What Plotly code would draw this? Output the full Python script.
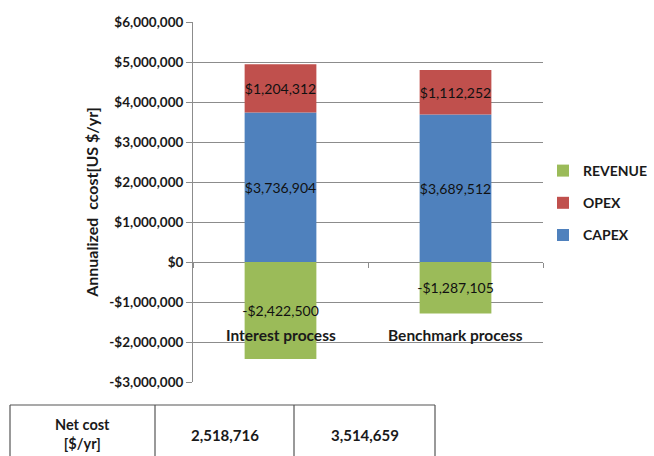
import plotly.graph_objects as go

categories = ["Interest process", "Benchmark process"]
capex = [3736904, 3689512]
opex = [1204312, 1112252]
revenue = [-2422500, -1287105]
net_cost_labels = ["2,518,716", "3,514,659"]
tick_vals = [-3000000, -2000000, -1000000, 0, 1000000, 2000000, 3000000, 4000000, 5000000, 6000000]

FONT = "Lato"
TXT = "#1a1a1a"

def money(v):
    return ("-$" if v < 0 else "$") + f"{abs(v):,}"

fig = go.Figure()
series = [("CAPEX", capex, "#4F81BD", 3), ("OPEX", opex, "#C0504D", 2), ("REVENUE", revenue, "#9BBB59", 1)]
for name, vals, col, rank in series:
    fig.add_trace(go.Bar(
        x=categories, y=vals, name="<b>%s</b>" % name, legendgroup=name, legendrank=rank,
        marker=dict(color=col, line=dict(width=0)),
        text=[money(v) for v in vals], textposition="inside", insidetextanchor="middle", textangle=0,
        textfont=dict(family=FONT, size=14, color="#111111"), constraintext="none",
        cliponaxis=False,
    ))

for c in categories:
    fig.add_annotation(x=c, y=-1830000, xref="x", yref="y", text="<b>%s</b>" % c, xanchor="center",
                       showarrow=False, font=dict(family=FONT, size=15.5, color=TXT))

# table (pixel positions converted to plot-area paper coordinates)
L, T, PW, PH = 193, 22, 350, 360
x0, x1, x2, x3 = 10, 155, 294, 435
W, H = 654, 456
def px(x):
    return (x - L) / PW
def py(y):
    return 1 - (y - T) / PH
line = dict(color="#555555", width=1.2)
fig.add_shape(type="line", xref="paper", yref="paper", x0=px(x0), x1=px(x3), y0=py(405), y1=py(405), line=line)
for xv in (x0, x1, x2, x3):
    fig.add_shape(type="line", xref="paper", yref="paper", x0=px(xv), x1=px(xv), y0=py(405), y1=py(460), line=line)
fig.add_annotation(xref="paper", yref="paper", x=px((x0 + x1) / 2), y=py(434), text="<b>Net cost<br>[$/yr]</b>",
                   xanchor="center", yanchor="middle",
                   showarrow=False, font=dict(family=FONT, size=14.5, color=TXT))
for (a, b), lab in zip(((x1, x2), (x2, x3)), net_cost_labels):
    fig.add_annotation(xref="paper", yref="paper", x=px((a + b) / 2), y=py(435), text="<b>%s</b>" % lab,
                       xanchor="center", yanchor="middle",
                       showarrow=False, font=dict(family=FONT, size=15, color=TXT))

fig.update_layout(
    width=W, height=H, margin=dict(l=193, r=111, t=22, b=74, autoexpand=False),
    barmode="relative", bargap=0.59,
    plot_bgcolor="white", paper_bgcolor="white",
    showlegend=True,
    legend=dict(traceorder="grouped", x=px(543), y=py(155), xanchor="left", yanchor="top",
                font=dict(family=FONT, size=14, color=TXT), itemwidth=30, tracegroupgap=11,
                bgcolor="rgba(0,0,0,0)"),
    xaxis=dict(showticklabels=False, showgrid=False, zeroline=False, showline=False,
               anchor="free", position=1 / 3, ticks="outside", tickson="boundaries", ticklen=5,
               tickcolor="#8c8c8c", tickwidth=1),
    yaxis=dict(range=[-3000000, 6000000], tickvals=tick_vals, ticktext=["<b>%s</b>" % money(v) for v in tick_vals],
               showgrid=True, gridcolor="#8c8c8c", gridwidth=1, zeroline=True, zerolinecolor="#8c8c8c", zerolinewidth=1,
               showline=True, linecolor="#8c8c8c", linewidth=1, ticks="outside", ticklen=6, tickcolor="#8c8c8c",
               tickfont=dict(family=FONT, size=13.5, color=TXT),
               title=dict(text="<b>Annualized  ccost[US $/yr]</b>", font=dict(family=FONT, size=16, color=TXT), standoff=6)),
)
fig.write_html("out.html")
